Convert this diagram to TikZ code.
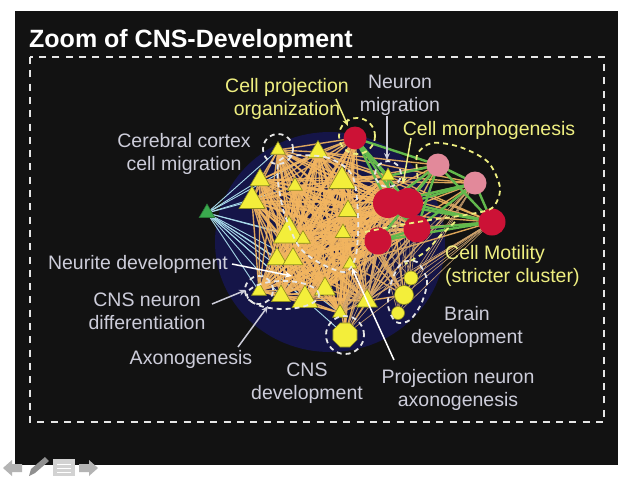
\documentclass[tikz,border=0pt]{standalone}
\usepackage{fontspec}
\setmainfont{Liberation Sans}
\usetikzlibrary{shapes.geometric,arrows.meta}
\pgfdeclarelayer{bg}
\pgfdeclarelayer{edges}
\pgfsetlayers{bg,edges,main}
\definecolor{slide}{HTML}{121212}
\definecolor{navy}{HTML}{151548}
\definecolor{tri}{HTML}{F3EE3A}
\definecolor{triline}{HTML}{8C8A1E}
\definecolor{crim}{HTML}{CC1236}
\definecolor{pinkn}{HTML}{E2899A}
\definecolor{gtri}{HTML}{3AAA4E}
\definecolor{orng}{HTML}{F2B560}
\definecolor{grn}{HTML}{62B84C}
\definecolor{lblue}{HTML}{A8DAEA}
\definecolor{tan}{HTML}{C9A070}
\definecolor{greytxt}{HTML}{CDCDDA}
\definecolor{yeltxt}{HTML}{EEEE80}
\definecolor{dashwhite}{HTML}{E6E6E6}
\definecolor{navgrey}{HTML}{B4B4B4}
\begin{document}
\begin{tikzpicture}[x=1pt,y=-1pt,
  ytri/.style={regular polygon,regular polygon sides=3,fill=tri,draw=triline,line width=0.6pt,inner sep=0pt,minimum size=#1},
  ycirc/.style={circle,fill=tri,draw=triline,line width=0.6pt,inner sep=0pt,minimum size=#1},
  yoct/.style={regular polygon,regular polygon sides=8,fill=tri,draw=triline,line width=0.6pt,inner sep=0pt,minimum size=#1},
  rcirc/.style={circle,fill=crim,inner sep=0pt,minimum size=#1},
  pcirc/.style={circle,fill=pinkn,inner sep=0pt,minimum size=#1},
  gnode/.style={regular polygon,regular polygon sides=3,fill=gtri,draw=gtri!70!black,line width=0.6pt,inner sep=0pt,minimum size=#1},
  oedge/.style={draw=orng,line width=1.4pt,opacity=0.9},
  bedge/.style={draw=lblue,line width=0.9pt},
  gedge/.style={draw=grn,line width=2.4pt},
  tedge/.style={draw=tan,line width=0.6pt},
  wdash/.style={draw=dashwhite,line width=1.8pt,dash pattern=on 5pt off 4pt},
  ydash/.style={draw=yeltxt,line width=1.8pt,dash pattern=on 5pt off 4pt},
  lbl/.style={font=\fontsize{19.5}{23}\selectfont,inner sep=0pt,align=center},
  garrow/.style={draw=#1,line width=1.5pt,-{Stealth[length=7pt,width=6pt]}},
]
\useasboundingbox (0,0) rectangle (640,480);
\begin{pgfonlayer}{bg}
\fill[white] (0,0) rectangle (640,480);
\fill[slide] (15,11) rectangle (618,465);
\fill[navy] (330,242) ellipse[x radius=115pt,y radius=110pt];
\end{pgfonlayer}

% title and frame
\node[anchor=base west,inner sep=0pt,text=white,font=\fontsize{25}{30}\selectfont\bfseries] (title) at (29,47) {Zoom of CNS-Development};
\draw[dashwhite,line width=2pt,dash pattern=on 7pt off 6.3pt] (30,57) rectangle (604,422);

% nodes
\node[gnode=18pt] (g) at (207,213) {};
\node[ytri=17pt] (t1) at (278,150) {};
\node[ytri=23pt] (t2) at (318,152) {};
\node[ytri=23pt] (t3) at (260,180) {};
\node[ytri=17pt] (t4) at (295,186) {};
\node[ytri=30pt] (t5) at (342,181) {};
\node[ytri=30pt] (t6) at (252,201) {};
\node[ytri=22pt] (t7) at (348,211) {};
\node[ytri=36pt] (t8) at (289,234) {};
\node[ytri=17pt] (t9) at (303,239) {};
\node[ytri=18pt] (t10) at (343,233) {};
\node[ytri=16pt] (t11) at (388,176) {};
\node[ytri=23pt] (t12) at (277,259) {};
\node[ytri=23pt] (t13) at (293,259) {};
\node[ytri=16pt] (t14) at (350,264) {};
\node[ytri=17pt] (t15) at (259,291) {};
\node[ytri=22pt] (t16) at (281,296) {};
\node[ytri=30pt] (t17) at (305,300) {};
\node[ytri=24pt] (t18) at (325,289) {};
\node[ytri=24pt] (t19) at (367,301) {};
\node[ytri=17pt] (t20) at (340,313) {};
\node[yoct=26pt] (c1) at (345,335) {};
\node[ycirc=14pt] (y1) at (411,278) {};
\node[ycirc=19pt] (y2) at (404,295) {};
\node[ycirc=13pt] (y3) at (398,313) {};
\node[rcirc=23pt] (r1) at (355,138) {};
\node[rcirc=30pt] (r2) at (388,203) {};
\node[rcirc=30pt] (r3) at (408,203) {};
\node[rcirc=27pt] (r4) at (417,229) {};
\node[rcirc=27pt] (r5) at (378,241) {};
\node[rcirc=27pt] (r6) at (492,222) {};
\node[pcirc=23pt] (p1) at (438,165) {};
\node[pcirc=23pt] (p2) at (475,183) {};

% edges
\begin{pgfonlayer}{edges}
\foreach \t in {t1,t2,t3,t4,t6,t8,t9,t12,t13,t15,t16,t17,t18,t20,c1}{
  \draw[bedge] (g.center) -- (\t.center);}
\foreach \i in {1,...,20}{\foreach \j in {1,...,20}{%
  \ifnum\i<\j\relax \draw[oedge] (t\i.center) -- (t\j.center);\fi}}
\foreach \i in {1,...,20}{\foreach \r in {r1,r2,r3,r4,r5}{%
  \draw[oedge] (t\i.center) -- (\r.center);}}
\foreach \t in {t2,t5,t7,t10,t11,t14,t19}{\foreach \r in {p1,p2,r6,c1,y2}{%
  \draw[oedge] (\t.center) -- (\r.center);}}
\foreach \a in {r2,r3,r4,r5,r6,p2}{\foreach \b in {y1,y2,y3,c1,t19,t20}{%
  \draw[tedge] (\a.center) -- (\b.center);}}
\foreach \a/\b in {r1/r2,r1/r3,r1/p1,r2/p1,r3/p1,r2/p2,r3/p2,r4/p1,r4/p2,r4/r6,r5/p1,r6/p1,r6/p2,r3/r6,r2/r6,r5/r6,p1/p2,t11/p1,t11/r2,r1/t11,r1/r4,r5/r4,r2/r4}{
  \draw[gedge] (\a.center) -- (\b.center);}
\end{pgfonlayer}

% enclosures
\draw[wdash] (278,149) circle[radius=15pt];
\draw[wdash] (388,174) circle[radius=13pt];
\draw[wdash] plot[smooth cycle] coordinates {(280,160) (325,157) (352,175) (358,215) (356,255) (345,272) (318,262) (298,245) (282,205)};
\draw[wdash] (259,290) circle[radius=14pt];
\draw[wdash] (283,295) ellipse[x radius=36pt,y radius=14pt];
\draw[wdash] (345,335) circle[radius=19pt];
\draw[wdash] plot[smooth cycle] coordinates {(417,262) (427,280) (422,302) (410,320) (396,322) (388,305) (392,280) (402,263)};
\draw[ydash] (357,136) circle[radius=18pt];
\draw[ydash] plot[smooth] coordinates {(365,232) (395,226) (430,220) (465,215) (492,208) (500,188) (488,162) (460,147) (432,143) (417,155) (418,180)};
\draw[ydash] plot[smooth] coordinates {(455,222) (440,236) (425,252) (405,264)};

% labels
\node[lbl,text=yeltxt,anchor=north] (lcpo) at (287,78) {Cell projection\\organization};
\node[lbl,text=greytxt,anchor=north] (lneu) at (400,75) {Neuron\\migration};
\node[lbl,text=yeltxt,anchor=north] (lmorph) at (489,121) {Cell morphogenesis};
\node[lbl,text=greytxt,anchor=north] (lcer) at (184,133) {Cerebral cortex\\cell migration};
\node[lbl,text=greytxt,anchor=north] (lneur) at (138,255) {Neurite development};
\node[lbl,text=greytxt,anchor=north] (lcnsn) at (147,293) {CNS neuron\\differentiation};
\node[lbl,text=greytxt,anchor=north] (laxo) at (191,350) {Axonogenesis};
\node[lbl,text=greytxt,anchor=north] (lcnsd) at (307,363) {CNS\\development};
\node[lbl,text=greytxt,anchor=north] (lproj) at (458,369) {Projection neuron\\axonogenesis};
\node[lbl,text=greytxt,anchor=north] (lbrain) at (467,306) {Brain\\development};
\node[lbl,text=yeltxt,anchor=north west,align=left] (lmot) at (445,245) {Cell Motility\\(stricter cluster)};

% label arrows
\coordinate (acpo) at (336,99);   \coordinate (acpoE) at (348,126);
\coordinate (aneu) at (387,116);  \coordinate (aneuE) at (387,160);
\coordinate (amor) at (411,138);  \coordinate (amorE) at (403,184);
\coordinate (anrt) at (232,264);  \coordinate (anrtE) at (292,276);
\coordinate (acnn) at (212,304);  \coordinate (acnnE) at (246,290);
\coordinate (aaxo) at (238,347);  \coordinate (aaxoE) at (268,306);
\coordinate (aprj) at (394,360);  \coordinate (aprjE) at (352,268);
\draw[garrow=yeltxt] (acpo) -- (acpoE);
\draw[garrow=greytxt] (aneu) -- (aneuE);
\draw[garrow=yeltxt] (amor) -- (amorE);
\draw[garrow=white] (anrt) -- (anrtE);
\draw[garrow=greytxt] (acnn) -- (acnnE);
\draw[garrow=greytxt] (aaxo) -- (aaxoE);
\draw[garrow=white] (aprj) -- (aprjE);

% navigation icons
\fill[navgrey] (3,468) -- (12,460) -- (12,464) -- (22,464) -- (22,472) -- (12,472) -- (12,476) -- cycle;
\fill[navgrey!80!black] (29,476) -- (31,469) -- (45,457) -- (49,461) -- (35,473) -- cycle;
\fill[navgrey!60] (53,459) rectangle (75,476);
\draw[white,line width=1pt] (57,464) -- (71,464) (57,468) -- (71,468) (57,472) -- (71,472);
\fill[navgrey] (98,468) -- (89,460) -- (89,464) -- (79,464) -- (79,472) -- (89,472) -- (89,476) -- cycle;
\end{tikzpicture}
\end{document}
